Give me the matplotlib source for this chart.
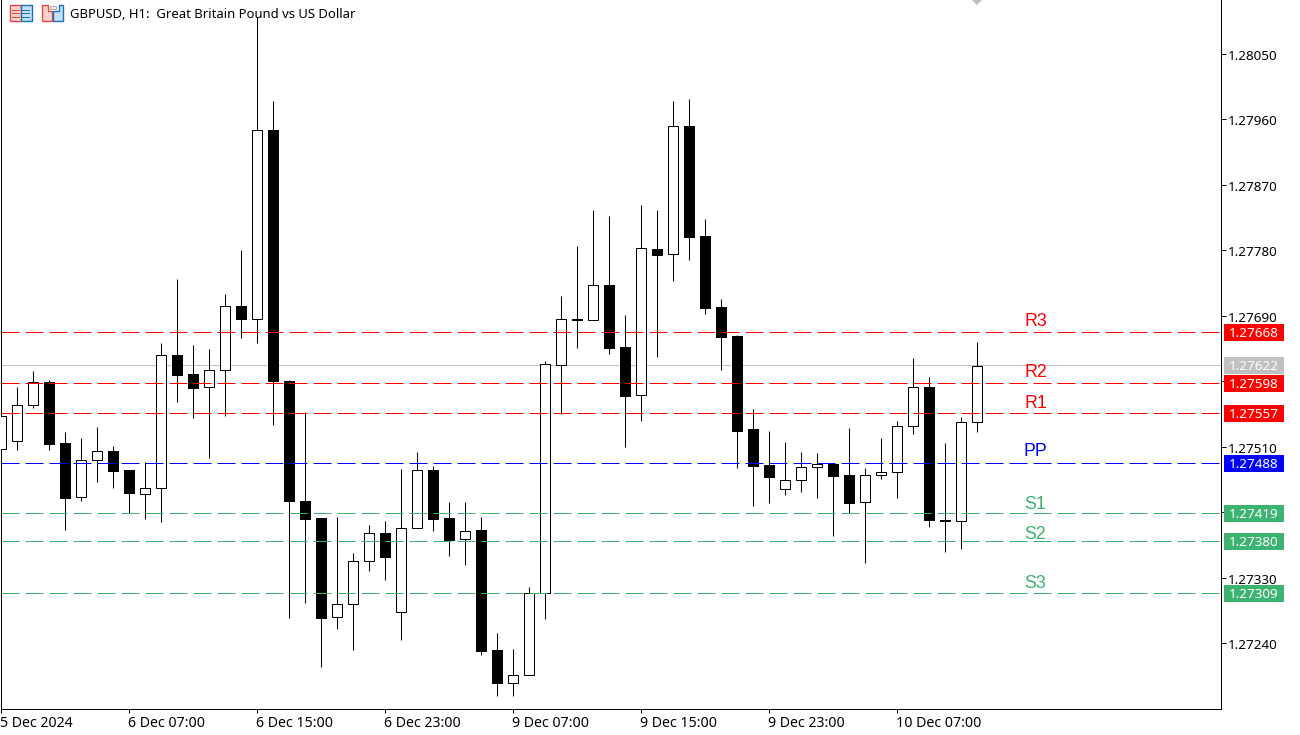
import matplotlib
matplotlib.use("Agg")
import matplotlib.pyplot as plt
from matplotlib.patches import Rectangle, Polygon
from matplotlib.lines import Line2D
from matplotlib.transforms import IdentityTransform, Affine2D

opens = [1.27507,1.27518,1.27567,1.27599,1.27515,1.27441,1.27492,1.27504,1.27478,1.27445,
         1.27453,1.27636,1.27610,1.27592,1.27615,1.27704,1.27685,1.27946,1.27601,1.27436,
         1.27412,1.27276,1.27294,1.27353,1.27391,1.27283,1.27399,1.27478,1.27412,1.27383,
         1.27396,1.27231,1.27185,1.27196,1.27309,1.27622,1.27685,1.27684,1.27733,1.27647,
         1.27581,1.27782,1.27775,1.27951,1.27800,1.27702,1.27662,1.27535,1.27485,1.27452,
         1.27465,1.27482,1.27486,1.27471,1.27434,1.27471,1.27475,1.27538,1.27592,1.27409,
         1.27408,1.27544]
highs = [1.27560,1.27592,1.27614,1.27602,1.27530,1.27522,1.27537,1.27511,1.27478,1.27489,
         1.27652,1.27741,1.27650,1.27645,1.27720,1.27781,1.28101,1.27985,1.27602,1.27558,
         1.27412,1.27414,1.27364,1.27402,1.27408,1.27479,1.27503,1.27484,1.27434,1.27434,
         1.27413,1.27254,1.27232,1.27317,1.27628,1.27717,1.27786,1.27836,1.27827,1.27691,
         1.27842,1.27836,1.27985,1.27988,1.27823,1.27713,1.27664,1.27562,1.27532,1.27517,
         1.27503,1.27502,1.27486,1.27536,1.27481,1.27522,1.27546,1.27632,1.27606,1.27515,
         1.27551,1.27654]
lows = [1.27500,1.27505,1.27564,1.27506,1.27396,1.27435,1.27462,1.27454,1.27419,1.27411,
        1.27407,1.27572,1.27550,1.27494,1.27552,1.27660,1.27653,1.27540,1.27275,1.27295,
        1.27208,1.27260,1.27231,1.27340,1.27327,1.27245,1.27399,1.27395,1.27360,1.27348,
        1.27224,1.27168,1.27167,1.27196,1.27274,1.27555,1.27646,1.27684,1.27638,1.27510,
        1.27545,1.27634,1.27738,1.27767,1.27693,1.27616,1.27481,1.27428,1.27433,1.27444,
        1.27448,1.27439,1.27388,1.27419,1.27350,1.27466,1.27440,1.27528,1.27400,1.27365,
        1.27369,1.27531]
closes = [1.27553,1.27567,1.27599,1.27514,1.27440,1.27492,1.27504,1.27477,1.27446,1.27453,
          1.27636,1.27609,1.27591,1.27615,1.27703,1.27685,1.27945,1.27600,1.27435,1.27411,
          1.27275,1.27294,1.27353,1.27391,1.27358,1.27399,1.27478,1.27411,1.27382,1.27395,
          1.27230,1.27185,1.27196,1.27309,1.27624,1.27685,1.27684,1.27732,1.27646,1.27580,
          1.27783,1.27774,1.27951,1.27799,1.27701,1.27661,1.27532,1.27484,1.27468,1.27465,
          1.27482,1.27486,1.27470,1.27433,1.27471,1.27475,1.27538,1.27592,1.27409,1.27408,
          1.27544,1.27621]

time_tick_index = [0, 8, 16, 24, 32, 40, 48, 56]
time_tick_labels = ["5 Dec 2024", "6 Dec 07:00", "6 Dec 15:00", "6 Dec 23:00",
                    "9 Dec 07:00", "9 Dec 15:00", "9 Dec 23:00", "10 Dec 07:00"]
price_ticks = [1.28050, 1.27960, 1.27870, 1.27780, 1.27690, 1.27600, 1.27510, 1.27420, 1.27330, 1.27240]
price_tick_labels = ["1.28050", "1.27960", "1.27870", "1.27780", "1.27690", "", "1.27510", "", "1.27330", "1.27240"]

level_names = ["R3", "R2", "R1", "PP", "S1", "S2", "S3"]
level_values = [1.27668, 1.27598, 1.27557, 1.27488, 1.27419, 1.27380, 1.27309]
level_label_y = [1.27683, 1.27613, 1.27571, 1.27505, 1.27432, 1.27391, 1.27323]
level_colors = ["#FF0000", "#FF0000", "#FF0000", "#0000FF", "#3CB371", "#3CB371", "#3CB371"]
last_price = 1.27622
title = "GBPUSD, H1:  Great Britain Pound vs US Dollar"

W, H = 1300, 735
plt.rcParams["font.family"] = ["Noto Sans", "DejaVu Sans"]
plt.rcParams["lines.scale_dashes"] = False
PX = 0.72

fig = plt.figure(figsize=(13, 7.35), dpi=100, facecolor="white")
ax = fig.add_axes([1.4 / W, 1 - 708.5 / H, 1220 / W, 708.5 / H])
ax.set_xlim(0, 76.25)
ax.set_ylim(1.271504, 1.28124)

n = len(opens)
xs = list(range(n))
ax.vlines(xs, lows, highs, color="black", lw=PX, zorder=2)
for x, o, c in zip(xs, opens, closes):
    up = c >= o
    ax.bar(x, abs(c - o), 0.625, bottom=min(o, c), facecolor="white" if up else "black",
           edgecolor="black", linewidth=PX, zorder=3)

ax.axhline(last_price, color="#C0C0C0", lw=PX, zorder=1)
for v, col in zip(level_values, level_colors):
    ax.plot([0, 76.1], [v, v], color=col, lw=PX, linestyle=(0, (18 * PX, 6 * PX)),
            dash_capstyle="butt", zorder=4)
for name, y, col in zip(level_names, level_label_y, level_colors):
    t = ax.text(64.66, y, name, color=col, family="Liberation Sans", fontsize=12.8,
                ha="center", va="center", zorder=5)
    t.set_transform(t.get_transform() + Affine2D().translate(-0.5, -0.8))

ax.plot([61], [1.28124], marker="D", ms=5.4, color="#C0C0C0", mew=0, zorder=2)

ax.spines["top"].set_visible(False)
for s in ["left", "right", "bottom"]:
    ax.spines[s].set_linewidth(PX)

ax.yaxis.tick_right()
ax.set_yticks(price_ticks)
ax.set_yticklabels(price_tick_labels, fontsize=9.7)
ax.tick_params(axis="y", length=3.6, width=PX, pad=1.0, direction="out")
ax.set_xticks(time_tick_index)
ax.set_xticklabels(time_tick_labels, fontsize=10.2, ha="left")
ax.tick_params(axis="x", length=3, width=PX, pad=2.5, direction="out")
for lab in ax.get_yticklabels():
    lab.set_transform(lab.get_transform() + Affine2D().translate(0, -1))
for lab in ax.get_xticklabels():
    lab.set_transform(lab.get_transform() + Affine2D().translate(-1, 0))

fig.canvas.draw()
tag_values = [last_price] + level_values
tag_colors = ["#C0C0C0"] + level_colors
for v, col in zip(tag_values, tag_colors):
    yd = ax.transData.transform((0, v))[1]
    fig.add_artist(Rectangle((1224, yd - 9), 60, 17, transform=IdentityTransform(),
                             facecolor=col, edgecolor="none", zorder=6))
    fig.text(1254 / W, (yd - 1.5) / H, f"{v:.5f}", color="white", fontsize=9.7,
             ha="center", va="center", zorder=7)


def py(y):
    return H - y


def rect(x0, y0, x1, y1, fc, ec="none", lw=0.0):
    fig.add_artist(Rectangle((x0, py(y1)), x1 - x0, y1 - y0, transform=IdentityTransform(),
                             facecolor=fc, edgecolor=ec, linewidth=lw, zorder=8))


RED, PINK, BLUE, SKY = "#E8483F", "#FBD3CC", "#1E70B4", "#BFE0F7"
rect(10, 5, 21, 20.5, PINK, RED, 1.0)
rect(21, 5, 31.5, 20.5, SKY, BLUE, 1.0)
for yy in (9.5, 13, 16.5):
    rect(12, yy, 20, yy + 1, RED)
    rect(22, yy, 30, yy + 1, BLUE)
fig.add_artist(Polygon([(42, py(5)), (48, py(5)), (48, py(11)), (52, py(11)), (52, py(20.5)), (42, py(20.5))],
                       transform=IdentityTransform(), facecolor=PINK, edgecolor=RED, linewidth=1.0, zorder=8))
fig.add_artist(Polygon([(59, py(5)), (63, py(5)), (63, py(20.5)), (53, py(20.5)), (53, py(11)), (59, py(11))],
                       transform=IdentityTransform(), facecolor=SKY, edgecolor=BLUE, linewidth=1.0, zorder=8))
rect(50, 5.5, 56, 8.5, "#F2F2F2", "#B0B0B0", 0.8)

fig.text(70 / W, 1 - 14.5 / H, title, fontsize=9.42, color="black", ha="left", va="center", zorder=9)

fig.add_artist(Line2D([1299.5 / W, 1299.5 / W], [0, 1], color="#EFEFEF", lw=PX))

fig.savefig("out.png", dpi=100)
